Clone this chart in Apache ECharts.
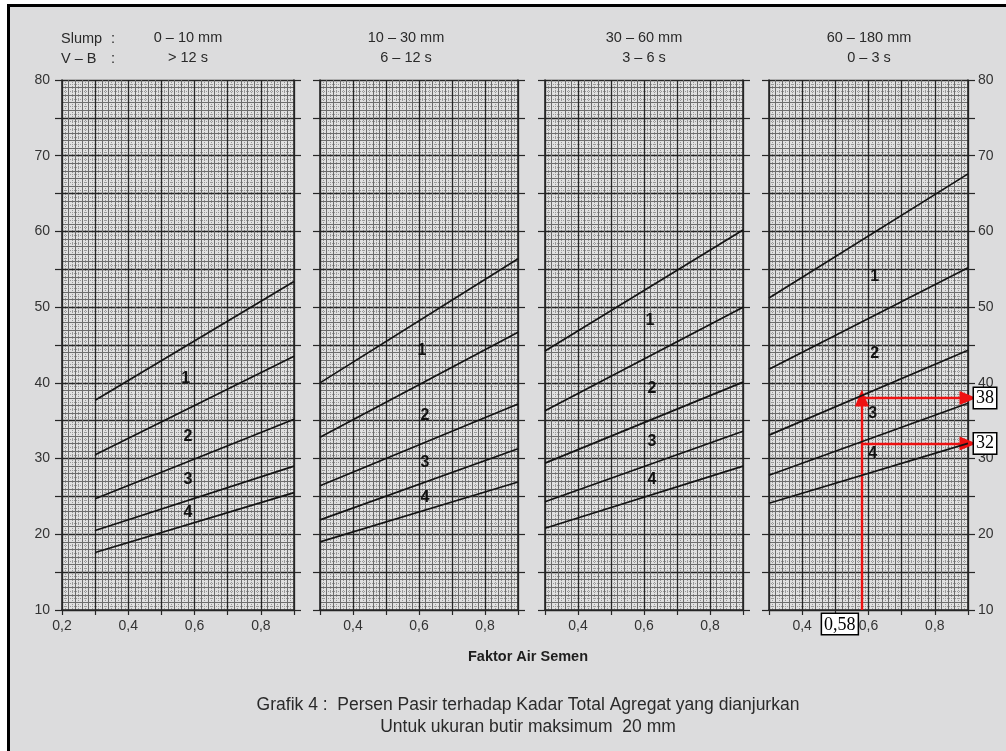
<!DOCTYPE html>
<html>
<head>
<meta charset="utf-8">
<script src="https://cdn.jsdelivr.net/npm/echarts@6/dist/echarts.min.js"></script>
<style>
  html, body { margin: 0; padding: 0; background: #ffffff; }
  #chart { width: 1006px; height: 751px; }
</style>
</head>
<body>
<div id="chart"></div>
<script>
// Faktor Air Semen range covered by each panel
const xStart = [0.2, 0.3, 0.3, 0.3];
const xEnd = [0.9, 0.9, 0.9, 0.9];

// Slump and Vebe class written above each panel
const slumpLabels = ['0 – 10 mm', '10 – 30 mm', '30 – 60 mm', '60 – 180 mm'];
const vbLabels = ['> 12 s', '6 – 12 s', '3 – 6 s', '0 – 3 s'];

// Percent sand tick labels on the outer axes
const yTickLabels = [10, 20, 30, 40, 50, 60, 70, 80];

// Boundary lines of the zones: percent sand at w/c 0.3 and at w/c 0.9, top line first
const lineX = [0.3, 0.9];
const linesSlump0to10 = [[37.7, 53.4], [30.5, 43.5], [24.7, 35.2], [20.5, 29.0], [17.6, 25.5]];
const linesSlump10to30 = [[40.0, 56.4], [32.8, 46.7], [26.4, 37.2], [21.9, 31.3], [19.0, 26.9]];
const linesSlump30to60 = [[44.2, 60.2], [36.3, 50.0], [29.4, 40.1], [24.3, 33.6], [20.8, 29.0]];
const linesSlump60to180 = [[51.2, 67.6], [41.8, 55.2], [33.1, 44.3], [27.8, 37.3], [24.1, 32.0]];
const panelLines = [linesSlump0to10, linesSlump10to30, linesSlump30to60, linesSlump60to180];

// Zone numbers (grading zone 1–4) placed between the boundary lines: [w/c, percent sand, zone]
const zonesSlump0to10 = [[0.573, 40.5, '1'], [0.58, 32.9, '2'], [0.58, 27.2, '3'], [0.58, 22.9, '4']];
const zonesSlump10to30 = [[0.609, 44.2, '1'], [0.618, 35.7, '2'], [0.618, 29.5, '3'], [0.618, 24.9, '4']];
const zonesSlump30to60 = [[0.618, 48.2, '1'], [0.624, 39.3, '2'], [0.624, 32.2, '3'], [0.624, 27.2, '4']];
const zonesSlump60to180 = [[0.619, 54.1, '1'], [0.619, 43.9, '2'], [0.613, 36.0, '3'], [0.613, 30.7, '4']];
const panelZones = [zonesSlump0to10, zonesSlump10to30, zonesSlump30to60, zonesSlump60to180];

// Reading for the design: w/c 0.58, zone 3 gives 32 – 38 % sand
const readWc = 0.58;
const readSand = [38, 32];

const FONT = '"Liberation Sans", Arial, sans-serif';
const INK = '#262626';

const panelLeft = [62, 320, 545, 769];
const panelWidth = [232, 198, 198, 199];
const panelTop = 80;
const panelHeight = 530;

const chart = echarts.init(document.getElementById('chart'));

const grids = [];
const xAxes = [];
const yAxes = [];
const series = [];

const decimalComma = v => v.toFixed(2).replace(/0$/, '').replace('.', ',');

for (let g = 0; g < 4; g++) {
  grids.push({
    left: panelLeft[g], top: panelTop, width: panelWidth[g], height: panelHeight,
    show: true, backgroundColor: '#e0e0e0', borderWidth: 0
  });

  // Main w/c axis: labelled every 0.2, heavy rule every 0.1, medium rule every 0.02
  xAxes.push({
    type: 'value', gridIndex: g, position: 'bottom',
    min: xStart[g], max: xEnd[g], interval: 0.1, z: 3,
    axisLine: { show: true, onZero: false, lineStyle: { color: INK, width: 1.6 } },
    axisTick: { show: true, inside: false, length: 5, lineStyle: { color: INK, width: 1.2 } },
    axisLabel: {
      show: true, margin: 9, fontSize: 14, color: '#333', fontFamily: FONT,
      formatter: v => {
        const t = Math.round(v * 10);
        return (t % 2 === 0 && t < 9) ? (t / 10).toFixed(1).replace('.', ',') : '';
      }
    },
    splitLine: { show: true, lineStyle: { color: INK, width: 1.3 } },
    minorTick: { show: false, splitNumber: 5 },
    minorSplitLine: { show: true, lineStyle: { color: '#6c6c6c', width: 1 } }
  });
  // Fine graph-paper rulings every 0.01
  xAxes.push({
    type: 'value', gridIndex: g, position: 'top',
    min: xStart[g], max: xEnd[g], interval: 0.01, z: 1,
    axisLine: { show: false }, axisTick: { show: false }, axisLabel: { show: false },
    splitLine: { show: true, lineStyle: { color: '#989898', width: 1, type: 'dotted' } }
  });

  // Main percent-sand axis on the left: heavy every 5, medium every 1
  yAxes.push({
    type: 'value', gridIndex: g, position: 'left',
    min: 10, max: 80, interval: 5, z: 3,
    axisLine: { show: true, onZero: false, lineStyle: { color: INK, width: 1.6 } },
    axisTick: { show: true, inside: false, length: 7, lineStyle: { color: INK, width: 1.2 } },
    axisLabel: {
      show: g === 0, margin: 12, fontSize: 14, color: '#333', fontFamily: FONT,
      formatter: v => (yTickLabels.indexOf(v) >= 0 ? String(v) : '')
    },
    splitLine: { show: true, lineStyle: { color: INK, width: 1.3 } },
    minorTick: { show: false, splitNumber: 5 },
    minorSplitLine: { show: true, lineStyle: { color: '#6c6c6c', width: 1 } }
  });
  // Right side: ticks on every panel, labels on the last one
  yAxes.push({
    type: 'value', gridIndex: g, position: 'right',
    min: 10, max: 80, interval: 5, z: 3,
    axisLine: { show: true, onZero: false, lineStyle: { color: INK, width: 1.6 } },
    axisTick: { show: true, inside: false, length: 7, lineStyle: { color: INK, width: 1.2 } },
    axisLabel: {
      show: g === 3, margin: 10, fontSize: 14, color: '#333', fontFamily: FONT,
      formatter: v => (yTickLabels.indexOf(v) >= 0 ? String(v) : '')
    },
    splitLine: { show: false }
  });
  // Fine rulings every 0.5
  yAxes.push({
    type: 'value', gridIndex: g, position: 'left',
    min: 10, max: 80, interval: 0.5, z: 1,
    axisLine: { show: false }, axisTick: { show: false }, axisLabel: { show: false },
    splitLine: { show: true, lineStyle: { color: '#989898', width: 1, type: 'dotted' } }
  });

  panelLines[g].forEach((pair, i) => {
    series.push({
      type: 'line', name: 'p' + g + 'l' + i,
      xAxisIndex: 2 * g, yAxisIndex: 3 * g,
      data: [[lineX[0], pair[0]], [lineX[1], pair[1]]],
      showSymbol: false, symbol: 'none', silent: true, z: 5,
      lineStyle: { color: '#141414', width: 1.7 }
    });
  });

  series.push({
    type: 'scatter', name: 'zones' + g,
    xAxisIndex: 2 * g, yAxisIndex: 3 * g,
    data: panelZones[g], symbolSize: 2, silent: true, z: 6,
    itemStyle: { color: 'rgba(0,0,0,0)' },
    label: {
      show: true, position: 'inside', formatter: p => p.data[2],
      fontSize: 16, fontWeight: 'bold', color: '#111111', fontFamily: FONT,
      textBorderWidth: 0, textBorderColor: 'transparent', opacity: 1
    },
    emphasis: { disabled: true }
  });
}

// Red reading arrows on the 60 – 180 mm panel
const boxLabel = {
  backgroundColor: '#ffffff', borderColor: '#000000', borderWidth: 1.5,
  padding: [2, 2, 0, 2], color: '#000000', fontSize: 18,
  fontFamily: '"Liberation Serif", "Times New Roman", serif'
};
series.push({
  type: 'line', name: 'reading',
  xAxisIndex: 6, yAxisIndex: 9, data: [], silent: true, z: 8,
  markLine: {
    silent: true, animation: false,
    symbol: ['none', 'triangle'], symbolSize: [14, 17],
    lineStyle: { color: '#ee1111', width: 2.4, type: 'solid' },
    label: Object.assign({ show: true }, boxLabel),
    data: [
      [
        { coord: [readWc, 10], label: Object.assign({ show: true, position: 'start', distance: 4, offset: [-22, 0], formatter: () => decimalComma(readWc) }, boxLabel) },
        { coord: [readWc, readSand[0]] }
      ],
      [
        { coord: [readWc, readSand[0]], label: Object.assign({ show: true, position: 'end', distance: 6, formatter: () => String(readSand[0]) }, boxLabel) },
        { coord: [xEnd[3], readSand[0]] }
      ],
      [
        { coord: [readWc, readSand[1]], label: Object.assign({ show: true, position: 'end', distance: 6, formatter: () => String(readSand[1]) }, boxLabel) },
        { coord: [xEnd[3], readSand[1]] }
      ]
    ]
  }
});

// Headings, axis title and caption
const textColor = '#2a2a2a';
const graphic = [
  { type: 'rect', shape: { x: 0, y: 0, width: 7, height: 751 }, style: { fill: '#ffffff' }, z: 100 },
  { type: 'rect', shape: { x: 0, y: 0, width: 1006, height: 4 }, style: { fill: '#ffffff' }, z: 100 },
  { type: 'rect', shape: { x: 7, y: 4, width: 3, height: 747 }, style: { fill: '#000000' }, z: 101 },
  { type: 'rect', shape: { x: 7, y: 4, width: 999, height: 3 }, style: { fill: '#000000' }, z: 101 },
  { type: 'text', x: 61, y: 39, style: { text: 'Slump', font: '14.5px ' + FONT, fill: textColor, align: 'left', verticalAlign: 'middle' } },
  { type: 'text', x: 111, y: 39, style: { text: ':', font: '14.5px ' + FONT, fill: textColor, align: 'left', verticalAlign: 'middle' } },
  { type: 'text', x: 61, y: 59, style: { text: 'V – B', font: '14.5px ' + FONT, fill: textColor, align: 'left', verticalAlign: 'middle' } },
  { type: 'text', x: 111, y: 59, style: { text: ':', font: '14.5px ' + FONT, fill: textColor, align: 'left', verticalAlign: 'middle' } },
  { type: 'text', x: 528, y: 657, style: { text: 'Faktor Air Semen', font: 'bold 14.5px ' + FONT, fill: '#1e1e1e', align: 'center', verticalAlign: 'middle' } },
  { type: 'text', x: 528, y: 705, style: { text: 'Grafik 4 :  Persen Pasir terhadap Kadar Total Agregat yang dianjurkan', font: '17.5px ' + FONT, fill: textColor, align: 'center', verticalAlign: 'middle' } },
  { type: 'text', x: 528, y: 727, style: { text: 'Untuk ukuran butir maksimum  20 mm', font: '17.5px ' + FONT, fill: textColor, align: 'center', verticalAlign: 'middle' } }
];
const headCenters = [188, 406, 644, 869];
for (let g = 0; g < 4; g++) {
  graphic.push({ type: 'text', x: headCenters[g], y: 38, style: { text: slumpLabels[g], font: '14.5px ' + FONT, fill: textColor, align: 'center', verticalAlign: 'middle' } });
  graphic.push({ type: 'text', x: headCenters[g], y: 58, style: { text: vbLabels[g], font: '14.5px ' + FONT, fill: textColor, align: 'center', verticalAlign: 'middle' } });
}

chart.setOption({
  animation: false,
  backgroundColor: '#dcdcdd',
  grid: grids,
  xAxis: xAxes,
  yAxis: yAxes,
  series: series,
  graphic: graphic
});
</script>
</body>
</html>
